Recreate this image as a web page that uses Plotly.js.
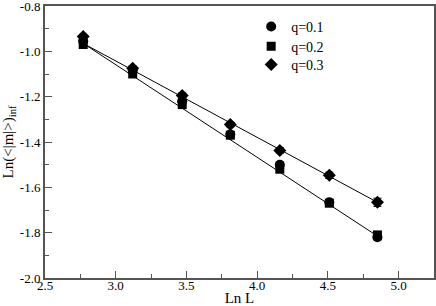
<!DOCTYPE html>
<html><head><meta charset="utf-8">
<script src="https://cdn.plot.ly/plotly-3.0.1.min.js"></script>
<style>html,body{margin:0;padding:0;background:#fff}</style>
</head><body><div id="chart" style="width:436px;height:306px"></div>
<script>
const lnL = [2.77, 3.12, 3.47, 3.81, 4.16, 4.51, 4.85];
const q01 = [-0.955, -1.085, -1.220, -1.367, -1.500, -1.666, -1.820];
const q02 = [-0.970, -1.100, -1.235, -1.370, -1.520, -1.670, -1.810];
const q03 = [-0.935, -1.075, -1.195, -1.323, -1.437, -1.547, -1.666];
const err01 = [0.010, 0.010, 0.010, 0.010, 0.012, 0.012, 0.012];
const err02 = [0.010, 0.010, 0.010, 0.010, 0.012, 0.012, 0.012];
const err03 = [0.010, 0.010, 0.012, 0.010, 0.012, 0.014, 0.018];
const fitX = [2.77, 4.85];
const fitUpper = [-0.965, -1.666];
const fitLower = [-0.965, -1.815];
const names = ['q=0.1', 'q=0.2', 'q=0.3'];

function pts(y, e, sym, sz, name, leg) {
  return {x: lnL, y: y, type: 'scatter', mode: 'markers', name: name, legend: leg,
    marker: {symbol: sym, size: sz, color: '#000'},
    error_y: {type: 'data', array: e, visible: true, color: '#000', thickness: 1, width: 4}};
}
const data = [
  {x: fitX, y: fitUpper, mode: 'lines', line: {color: '#000', width: 1}, showlegend: false, hoverinfo: 'skip'},
  {x: fitX, y: fitLower, mode: 'lines', line: {color: '#000', width: 1}, showlegend: false, hoverinfo: 'skip'},
  pts(q01, err01, 'circle', 10, names[0], 'legend'),
  pts(q02, err02, 'square', 9, names[1], 'legend2'),
  pts(q03, err03, 'diamond', 10, names[2], 'legend3')
];
const serif = 'Liberation Serif, Times New Roman, serif';
const axFont = {family: serif, size: 13, color: '#000'};
function leg(y) {
  return {x: 0.53, y: y, xanchor: 'left', yanchor: 'middle', bgcolor: 'rgba(0,0,0,0)',
    font: {family: serif, size: 14, color: '#000'}, itemwidth: 30};
}
const layout = {
  width: 436, height: 306,
  margin: {l: 45, r: 2, t: 6, b: 28},
  paper_bgcolor: '#fff', plot_bgcolor: '#fff',
  font: axFont,
  showlegend: true,
  legend: leg(0.923), legend2: leg(0.851), legend3: leg(0.783),
  xaxis: {range: [2.5, 5.25], tickvals: [2.5, 3.0, 3.5, 4.0, 4.5, 5.0], ticktext: ['2.5','3.0','3.5','4.0','4.5','5.0'],
    ticks: 'inside', ticklen: 7, tickcolor: '#555', tickwidth: 1, ticklabelstandoff: -6, ticklabeloverflow: 'allow',
    minor: {dtick: 0.25, tick0: 2.5, ticks: 'inside', ticklen: 4, tickcolor: '#555'},
    showline: true, linecolor: '#555', linewidth: 2, mirror: true,
    showgrid: false, zeroline: false, tickfont: axFont,
    title: {text: 'Ln L', font: {family: serif, size: 15, color: '#000'}, standoff: 0}},
  yaxis: {range: [-2.0, -0.8], tickvals: [-2.0, -1.8, -1.6, -1.4, -1.2, -1.0, -0.8], ticktext: ['-2.0','-1.8','-1.6','-1.4','-1.2','-1.0','-0.8'],
    ticks: 'inside', ticklen: 7, tickcolor: '#555', tickwidth: 1, ticklabeloverflow: 'allow',
    minor: {dtick: 0.1, tick0: -2.0, ticks: 'inside', ticklen: 4, tickcolor: '#555'},
    showline: true, linecolor: '#555', linewidth: 2, mirror: true,
    showgrid: false, zeroline: false, tickfont: axFont,
    title: {text: 'Ln(<|m|>)<sub>inf</sub>', font: {family: serif, size: 15, color: '#000'}, standoff: 8}}
};
Plotly.newPlot('chart', data, layout, {displayModeBar: false, staticPlot: true});
</script></body></html>
